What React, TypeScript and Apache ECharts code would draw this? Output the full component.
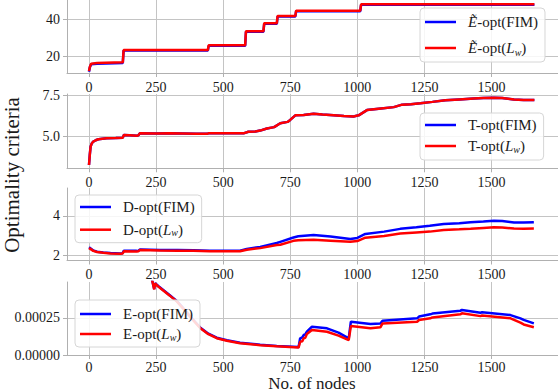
import React, { useEffect, useRef } from "react";
import * as echarts from "echarts";

const FONT = "Liberation Serif";
const BLUE = "#0000ff";
const RED = "#ff0000";

// x tick labels (shared)
const xTicks = [0, 250, 500, 750, 1000, 1250, 1500];

// Panel 1: E~-opt (step function)
const e1X = [0, 3, 8, 30, 126, 129, 443, 446, 582, 585, 650, 653, 700, 703, 769, 772, 1011, 1014, 1660];
const e1Fim = [12.0, 14.2, 16.0, 16.3, 16.7, 23.3, 23.3, 25.8, 25.8, 33.3, 33.3, 37.6, 37.6, 41.5, 41.5, 44.3, 44.3, 47.7, 47.7];
const e1Lw = [12.3, 14.5, 16.3, 16.6, 17.0, 23.6, 23.6, 26.1, 26.1, 33.6, 33.6, 37.9, 37.9, 41.8, 41.8, 44.6, 44.6, 48.0, 48.0];
const e1Ticks = [20, 40];

// Panel 2: T-opt
const tX = [0, 3, 6, 10, 16, 25, 35, 50, 66, 100, 126, 130, 150, 180, 184, 190, 250, 300, 350, 400, 440, 445, 500, 550, 576, 594, 620, 638, 663, 690, 713, 740, 750, 769, 800, 837, 870, 912, 950, 986, 1005, 1036, 1080, 1136, 1167, 1200, 1235, 1280, 1328, 1380, 1434, 1470, 1509, 1540, 1584, 1620, 1660];
const tFim = [3.27, 3.9, 4.39, 4.58, 4.7, 4.78, 4.84, 4.87, 4.9, 4.92, 4.94, 5.1, 5.09, 5.06, 5.08, 5.21, 5.19, 5.2, 5.19, 5.18, 5.17, 5.2, 5.2, 5.2, 5.2, 5.3, 5.32, 5.37, 5.5, 5.58, 5.82, 5.9, 6.02, 6.3, 6.32, 6.4, 6.35, 6.31, 6.26, 6.23, 6.3, 6.62, 6.7, 6.8, 6.95, 6.98, 7.03, 7.12, 7.22, 7.27, 7.32, 7.35, 7.37, 7.36, 7.27, 7.24, 7.24];
const tLw = [3.27, 3.9, 4.39, 4.58, 4.7, 4.78, 4.84, 4.87, 4.9, 4.92, 4.94, 5.1, 5.09, 5.06, 5.08, 5.21, 5.19, 5.2, 5.19, 5.18, 5.17, 5.2, 5.2, 5.2, 5.2, 5.3, 5.32, 5.37, 5.5, 5.58, 5.82, 5.9, 6.02, 6.3, 6.32, 6.4, 6.35, 6.31, 6.26, 6.23, 6.3, 6.62, 6.7, 6.8, 6.95, 6.98, 7.03, 7.12, 7.22, 7.27, 7.32, 7.35, 7.37, 7.36, 7.27, 7.24, 7.24];
const tTicks = [5.0, 7.5];

// Panel 3: D-opt
const dX = [0, 5, 16, 30, 53, 80, 116, 125, 130, 178, 184, 190, 265, 330, 389, 450, 500, 563, 588, 638, 700, 713, 762, 780, 837, 900, 974, 1000, 1030, 1100, 1160, 1220, 1270, 1322, 1380, 1422, 1470, 1509, 1540, 1584, 1620, 1658];
const dFim = [2.4, 2.35, 2.24, 2.18, 2.14, 2.11, 2.09, 2.1, 2.23, 2.22, 2.23, 2.29, 2.27, 2.26, 2.25, 2.23, 2.23, 2.23, 2.32, 2.42, 2.62, 2.68, 2.9, 2.96, 3.03, 2.95, 2.83, 2.88, 3.08, 3.2, 3.34, 3.42, 3.5, 3.59, 3.63, 3.68, 3.71, 3.75, 3.74, 3.66, 3.66, 3.68];
const dLw = [2.36, 2.32, 2.22, 2.16, 2.12, 2.09, 2.07, 2.08, 2.2, 2.19, 2.2, 2.26, 2.24, 2.23, 2.22, 2.2, 2.2, 2.2, 2.28, 2.36, 2.52, 2.53, 2.73, 2.76, 2.79, 2.74, 2.68, 2.72, 2.89, 2.98, 3.1, 3.16, 3.2, 3.28, 3.32, 3.35, 3.39, 3.42, 3.41, 3.36, 3.35, 3.36];
const dTicks = [2, 4];

// Panel 4: E-opt
const eX = [0, 50, 100, 150, 200, 228, 243, 246, 258, 300, 327, 352, 380, 414, 445, 476, 514, 563, 638, 700, 781, 787, 795, 800, 806, 812, 831, 887, 930, 968, 976, 1049, 1086, 1094, 1223, 1230, 1272, 1280, 1384, 1390, 1459, 1465, 1571, 1608, 1620, 1658];
const eFim = [0.02, 0.004, 0.0018, 0.0011, 0.0007, 0.00056, 0.000443, 0.000483, 0.000463, 0.000403, 0.000363, 0.000313, 0.000253, 0.000185, 0.000143, 0.000116, 0.000099, 0.000082, 0.000069, 0.000061, 0.000053, 0.000112, 0.000118, 0.000134, 0.000138, 0.000156, 0.00019, 0.000179, 0.00015, 0.000112, 0.000223, 0.000208, 0.000212, 0.00023, 0.000246, 0.000258, 0.000273, 0.000278, 0.000297, 0.000302, 0.000284, 0.000287, 0.000268, 0.000246, 0.000236, 0.000212];
const eLw = [0.02, 0.004, 0.0018, 0.0011, 0.0007, 0.00056, 0.00044, 0.00048, 0.00046, 0.0004, 0.00036, 0.00031, 0.00025, 0.000182, 0.00014, 0.000113, 0.000096, 0.000079, 0.000066, 0.000058, 0.00005, 0.000089, 0.000092, 0.000112, 0.000115, 0.000141, 0.000168, 0.000156, 0.00013, 0.0001, 0.000194, 0.000179, 0.000186, 0.000212, 0.000223, 0.000235, 0.000246, 0.000252, 0.000273, 0.00028, 0.000261, 0.000265, 0.000246, 0.000217, 0.000205, 0.000186];
const eTicks = [0, 0.00025];

const zip = (xs: number[], ys: number[]) => xs.map((x, i) => [x, ys[i]]);

const GRID_COLOR = "#c4c4c4";
const AXIS_COLOR = "#b0b0b0";
const TEXT_COLOR = "#1a1a1a";

function makeX(idx: number, margin: number) {
  return {
    type: "value",
    gridIndex: idx,
    min: -82,
    max: 1748,
    axisLine: { show: true, onZero: false, lineStyle: { color: AXIS_COLOR, width: 1 } },
    axisTick: { show: true, length: 4, customValues: xTicks, lineStyle: { color: AXIS_COLOR } },
    axisLabel: {
      customValues: xTicks,
      margin,
      color: TEXT_COLOR,
      fontFamily: FONT,
      fontSize: 14,
      formatter: (v: number) => String(Math.round(v)),
    },
    splitLine: { show: true, lineStyle: { color: GRID_COLOR, width: 1 } },
  };
}

function makeY(idx: number, min: number, max: number, ticks: number[], fmt: (v: number) => string) {
  return {
    type: "value",
    gridIndex: idx,
    min,
    max,
    axisLine: { show: true, onZero: false, lineStyle: { color: AXIS_COLOR, width: 1 } },
    axisTick: { show: true, length: 4, customValues: ticks, lineStyle: { color: AXIS_COLOR } },
    axisLabel: { customValues: ticks, margin: 7, color: TEXT_COLOR, fontFamily: FONT, fontSize: 14, formatter: fmt },
    splitLine: { show: true, lineStyle: { color: GRID_COLOR, width: 1 } },
  };
}

function makeSeries(idx: number, name: string, xs: number[], ys: number[], color: string) {
  return {
    type: "line",
    name,
    xAxisIndex: idx,
    yAxisIndex: idx,
    data: zip(xs, ys),
    symbol: "none",
    showSymbol: false,
    clip: true,
    lineStyle: { color, width: 2.5 },
    itemStyle: { color },
    emphasis: { disabled: true },
  };
}

const legendLabel = (name: string) =>
  name.replace("Ẽ", "{i|Ẽ}").replace("(Lw)", "({i|L}{sub|w})");

function makeLegend(names: string[], left: number, top: number, lineHeight: number, gap: number, padding: number[]) {
  return {
    data: names,
    orient: "vertical",
    left,
    top,
    icon: "rect",
    itemWidth: 31,
    itemHeight: 2.5,
    itemGap: gap,
    padding,
    selectedMode: false,
    backgroundColor: "rgba(255,255,255,0.85)",
    borderColor: "#d6d6d6",
    borderWidth: 1,
    borderRadius: 4,
    formatter: legendLabel,
    textStyle: {
      fontFamily: FONT,
      fontSize: 15,
      color: TEXT_COLOR,
      lineHeight,
      padding: [0, 0, 0, 7],
      rich: {
        i: { fontFamily: FONT, fontSize: 15, fontStyle: "italic", color: TEXT_COLOR, lineHeight },
        sub: { fontFamily: FONT, fontSize: 10, fontStyle: "italic", color: TEXT_COLOR, verticalAlign: "bottom", lineHeight },
      },
    },
  };
}

export default function App() {
  const ref = useRef<HTMLDivElement>(null);
  useEffect(() => {
    if (!ref.current) return;
    const chart = echarts.init(ref.current, undefined, { renderer: "svg" });
    const option = {
      animation: false,
      grid: [
        { left: 67, width: 491, top: 0, height: 73 },
        { left: 67, width: 491, top: 94, height: 74.3 },
        { left: 67, width: 491, top: 188, height: 72.5 },
        { left: 67, width: 491, top: 282, height: 73 },
      ],
      xAxis: [makeX(0, 7), makeX(1, 7), makeX(2, 7), makeX(3, 5)],
      yAxis: [
        makeY(0, 11.3, 50.3, e1Ticks, (v: number) => String(Math.round(v))),
        makeY(1, 3.07, 7.6, tTicks, (v: number) => v.toFixed(1)),
        makeY(2, 1.73, 5.42, dTicks, (v: number) => String(Math.round(v))),
        makeY(3, 0, 0.00049, eTicks, (v: number) => v.toFixed(5)),
      ],
      legend: [
        makeLegend(["Ẽ-opt(FIM)", "Ẽ-opt(Lw)"], 420, 8, 18, 8, [5, 7, 5, 5]),
        makeLegend(["T-opt(FIM)", "T-opt(Lw)"], 420, 113, 16, 5, [4, 7, 6, 5]),
        makeLegend(["D-opt(FIM)", "D-opt(Lw)"], 75, 195, 16, 6.7, [4, 7, 5, 5]),
        makeLegend(["E-opt(FIM)", "E-opt(Lw)"], 75, 300, 16, 4, [6, 7, 5, 5]),
      ],
      series: [
        makeSeries(0, "Ẽ-opt(FIM)", e1X, e1Fim, BLUE),
        makeSeries(0, "Ẽ-opt(Lw)", e1X, e1Lw, RED),
        makeSeries(1, "T-opt(FIM)", tX, tFim, BLUE),
        makeSeries(1, "T-opt(Lw)", tX, tLw, RED),
        makeSeries(2, "D-opt(FIM)", dX, dFim, BLUE),
        makeSeries(2, "D-opt(Lw)", dX, dLw, RED),
        makeSeries(3, "E-opt(FIM)", eX, eFim, BLUE),
        makeSeries(3, "E-opt(Lw)", eX, eLw, RED),
      ],
      graphic: [
        {
          type: "text",
          x: 12,
          y: 175,
          rotation: Math.PI / 2,
          style: { text: "Optimality criteria", fontFamily: FONT, fontSize: 21, fill: TEXT_COLOR, align: "center", verticalAlign: "middle" },
        },
        {
          type: "text",
          x: 312,
          y: 392,
          style: { text: "No. of nodes", fontFamily: FONT, fontSize: 17, fill: TEXT_COLOR, align: "center", verticalAlign: "bottom" },
        },
      ],
    };
    chart.setOption(option as any);
    return () => chart.dispose();
  }, []);
  return (
    <div
      ref={ref}
      style={{ position: "fixed", left: 0, top: 0, width: 558, height: 392, background: "#fff" }}
    />
  );
}
